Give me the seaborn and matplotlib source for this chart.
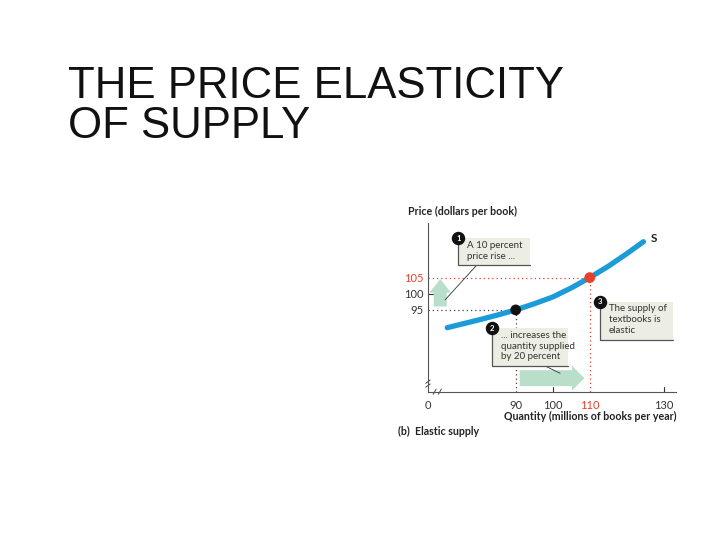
import matplotlib
matplotlib.use("Agg")
import matplotlib.pyplot as plt
from matplotlib.patches import Rectangle
import seaborn as sns
import pandas as pd

# supply curve
supply_q = [71.5, 75, 80, 85, 90, 95, 100, 105, 110, 115, 120, 124.5]
supply_p = [89.5, 90.5, 91.9, 93.4, 95, 96.9, 99.0, 101.8, 105, 108.5, 112.4, 116.1]

point_q = [90, 110]
point_p = [95, 105]
point_col = ["#111111", "#e8402a"]

x_ticks = [90, 100, 110, 130]
x_labels = ["90", "100", "110", "130"]
y_ticks = [95, 100, 105]
y_labels = ["95", "100", "105"]

notes = ["A 10 percent\nprice rise ...",
         "... increases the\nquantity supplied\nby 20 percent",
         "The supply of\ntextbooks is\nelastic"]

BLUE = "#1b9bd7"
RED = "#e8402a"
GREEN = "#b9dfca"
BOX = "#ecede3"
FONT = ["Lato", "DejaVu Sans"]

sns.set_style("white")
plt.rcParams["font.family"] = FONT

fig = plt.figure(figsize=(7.2, 5.4), dpi=100)
fig.text(68 / 720, 1 - 66 / 540, "THE PRICE ELASTICITY\nOF SUPPLY", va="top", ha="left",
         fontsize=31.5, family=["Liberation Sans", "DejaVu Sans"], linespacing=0.98, color="#111111")

ax = fig.add_axes([428 / 720, 1 - 391.7 / 540, 248 / 720, 168.4 / 540])
x0, x1 = 66.3, 133.3
y0, y1 = 69.7, 121.8

df = pd.DataFrame({"q": supply_q, "p": supply_p})
sns.lineplot(data=df, x="q", y="p", ax=ax, color=BLUE, lw=3.8, sort=True, zorder=4,
             solid_joinstyle="round", solid_capstyle="round")

# reference dotted lines
dots = (0, (1, 2.4))
ax.plot([x0, point_q[0]], [point_p[0], point_p[0]], ls=dots, color="#444444", lw=0.9, zorder=2)
ax.plot([point_q[0], point_q[0]], [y0, point_p[0]], ls=dots, color="#444444", lw=0.9, zorder=2)
ax.plot([x0, point_q[1]], [point_p[1], point_p[1]], ls=dots, color=RED, lw=0.9, zorder=2)
ax.plot([point_q[1], point_q[1]], [y0, point_p[1]], ls=dots, color=RED, lw=0.9, zorder=2)

pts = pd.DataFrame({"q": point_q, "p": point_p, "c": ["a", "b"]})
sns.scatterplot(data=pts, x="q", y="p", hue="c", palette=point_col, s=60, ax=ax,
                legend=False, zorder=6, edgecolor="none")

# green arrows
ax.annotate("", xy=(69.6, 105.4), xytext=(69.6, 95.2),
            arrowprops=dict(arrowstyle="simple,head_length=0.75,head_width=1.2,tail_width=0.72",
                            fc=GREEN, ec="none", mutation_scale=13), zorder=3)
ax.annotate("", xy=(109.3, 73.9), xytext=(90.3, 73.9),
            arrowprops=dict(arrowstyle="simple,head_length=0.75,head_width=1.5,tail_width=0.95",
                            fc=GREEN, ec="none", mutation_scale=12), zorder=3)

# leader lines
ax.plot([79.5, 70.9], [108.9, 98.1], color="#333333", lw=0.6, zorder=3)
ax.plot([98.4, 102], [77.4, 75.4], color="#333333", lw=0.6, zorder=3)

# note boxes
boxes = [(74.5, 108.9, 93.9, 117.2), (83.5, 77.8, 104.2, 89.3), (112.8, 85.7, 132.6, 97.6)]
for i, (bx0, by0, bx1, by1) in enumerate(boxes):
    ax.add_patch(Rectangle((bx0, by0), bx1 - bx0, by1 - by0, fc=BOX, ec="none", zorder=7, clip_on=False))
    ax.plot([bx0, bx0, bx1], [by1, by0, by0], color="#555555", lw=0.9, zorder=8, clip_on=False)
    ax.text(bx0 + 2.4, by1 - 0.8, notes[i], va="top", ha="left", fontsize=7,
            color="#333333", zorder=9, linespacing=1.25)
    ax.scatter([bx0], [by1], s=75, color="#111111", zorder=10, clip_on=False)
    ax.text(bx0, by1, str(i + 1), color="white", fontsize=5.5, fontweight="bold",
            ha="center", va="center", zorder=11)

ax.text(126.5, 117.0, "S", fontsize=8.5, fontweight="bold", color="#222222", va="center")

# axes
ax.set_xlim(x0, x1)
ax.set_ylim(y0, y1)
for s in ["top", "right"]:
    ax.spines[s].set_visible(False)
for s in ["left", "bottom"]:
    ax.spines[s].set_color("#555555")
    ax.spines[s].set_linewidth(0.8)

ax.set_xticks([x0] + x_ticks)
ax.set_xticklabels(["0"] + x_labels, fontsize=8, color="#333333")
ax.get_xticklabels()[3].set_color(RED)
ax.set_yticks(y_ticks)
ax.set_yticklabels(y_labels, fontsize=8, color="#333333")
ax.get_yticklabels()[2].set_color(RED)
ax.tick_params(axis="x", length=0, pad=6)
ax.tick_params(axis="y", length=0, pad=3)
ax.set_xlabel("")
ax.set_ylabel("")
# small tick marks at 100 on y and at 100/130 on x
ax.plot([x0, x0 + 1.5], [100, 100], color="#333333", lw=0.8, clip_on=False)
for t in [100, 130]:
    ax.plot([t, t], [y0, y0 + 1.3], color="#333333", lw=0.8, clip_on=False)

# axis breaks
ax.plot([x0 - 0.6, x0 + 0.6], [y0 + 2.6, y0 + 3.6], color="#444444", lw=0.7, clip_on=False)
ax.plot([x0 - 0.6, x0 + 0.6], [y0 + 1.4, y0 + 2.4], color="#444444", lw=0.7, clip_on=False)
ax.plot([x0 + 1.4, x0 + 2.2], [y0 - 0.8, y0 + 0.8], color="#444444", lw=0.7, clip_on=False)
ax.plot([x0 + 2.8, x0 + 3.6], [y0 - 0.8, y0 + 0.8], color="#444444", lw=0.7, clip_on=False)

fig.text(408 / 720, 1 - 211.7 / 540, "Price (dollars per book)", fontsize=7.7, fontweight="bold",
         color="#222222", va="center", ha="left")
fig.text(676 / 720, 1 - 416 / 540, "Quantity (millions of books per year)", fontsize=7.7,
         fontweight="bold", color="#222222", va="center", ha="right")
fig.text(398 / 720, 1 - 431.7 / 540, "(b)  Elastic supply", fontsize=7.7, fontweight="bold",
         color="#222222", va="center", ha="left")

fig.savefig("out.png", dpi=100, facecolor="white")
